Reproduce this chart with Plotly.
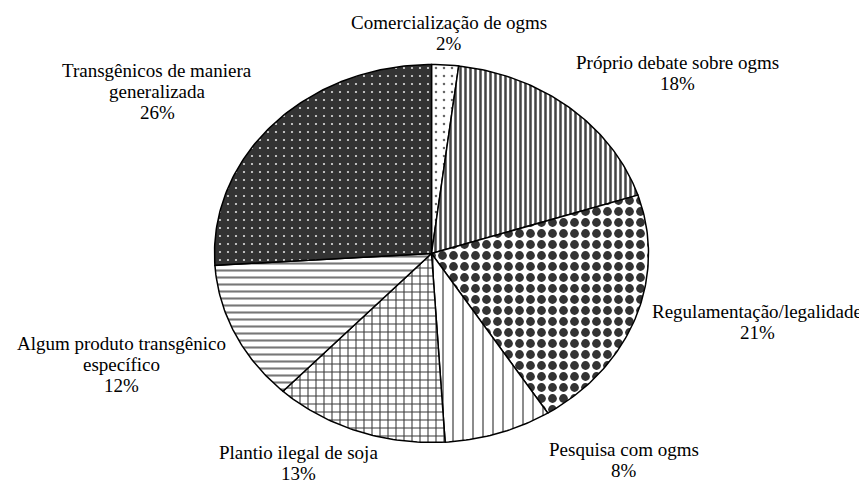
import numpy as np
import plotly.graph_objects as go

# ── Data ──
categories = [
    "Comercialização de ogms",
    "Próprio debate sobre ogms",
    "Regulamentação/legalidade",
    "Pesquisa com ogms",
    "Plantio ilegal de soja",
    "Algum produto transgênico específico",
    "Transgênicos de maniera generalizada",
]
shares = [2, 18, 21, 8, 13, 12, 26]

# label lines as shown, and where the first line sits (page pixels)
label_lines = [
    ["Comercialização de ogms", "2%"],
    ["Próprio debate sobre ogms", "18%"],
    ["Regulamentação/legalidade", "21%"],
    ["Pesquisa com ogms", "8%"],
    ["Plantio ilegal de soja", "13%"],
    ["Algum produto transgênico", "específico", "12%"],
    ["Transgênicos de maniera", "generalizada", "26%"],
]
label_xy = [(449, 22), (677, 62), (757, 311), (624, 449), (298, 452), (121, 343), (157, 70)]
LINE_GAP = 21

# ── Slice styles (pattern fills like the original) ──
patterns = [
    dict(shape=".", fgcolor="#666666", bgcolor="white", size=8, solidity=0.08),
    dict(shape="|", fgcolor="#444444", bgcolor="white", size=5, solidity=0.5),
    dict(shape=".", fgcolor="#333333", bgcolor="white", size=11, solidity=0.5),
    dict(shape="|", fgcolor="#666666", bgcolor="white", size=10, solidity=0.15),
    dict(shape="+", fgcolor="#3a3a3a", bgcolor="white", size=8, solidity=0.25),
    dict(shape="-", fgcolor="#777777", bgcolor="white", size=7, solidity=0.3),
    dict(shape=".", fgcolor="#dddddd", bgcolor="#333333", size=8, solidity=0.06),
]

W, H = 867, 484
OFF = 8  # page body margin: axes use page pixels
cx, cy, rx, ry = 431.5, 253.5, 217, 189  # pie drawn as a slightly flattened ellipse

FONT = dict(family="Liberation Serif", size=19, color="black")

fig = go.Figure()

total = sum(shares)
start = 0.0
for name, val, pat in zip(categories, shares, patterns):
    end = start + val / total * 2 * np.pi
    t = np.linspace(start, end, max(int(val * 4), 6))
    xs = np.concatenate([[cx], cx + rx * np.sin(t), [cx]])
    ys = np.concatenate([[cy], cy - ry * np.cos(t), [cy]])
    fig.add_trace(go.Scatter(
        x=xs, y=ys, mode="lines", fill="toself", name=name,
        fillcolor=pat["bgcolor"],
        fillpattern=dict(pat, fgopacity=1, fillmode="replace"),
        line=dict(color="black", width=1.5),
        hoverinfo="name", showlegend=False,
    ))
    start = end

for lines, (x, y) in zip(label_lines, label_xy):
    for i, line in enumerate(lines):
        fig.add_annotation(
            text=line, x=x, y=y + i * LINE_GAP, xref="x", yref="y",
            showarrow=False, xanchor="center", yanchor="middle",
            font=FONT,
        )

fig.update_layout(
    width=W, height=H,
    margin=dict(l=0, r=0, t=0, b=0),
    paper_bgcolor="white",
    plot_bgcolor="white",
)
fig.update_xaxes(range=[OFF, W + OFF], visible=False)
fig.update_yaxes(range=[H + OFF, OFF], visible=False)

fig.write_html("out.html")
